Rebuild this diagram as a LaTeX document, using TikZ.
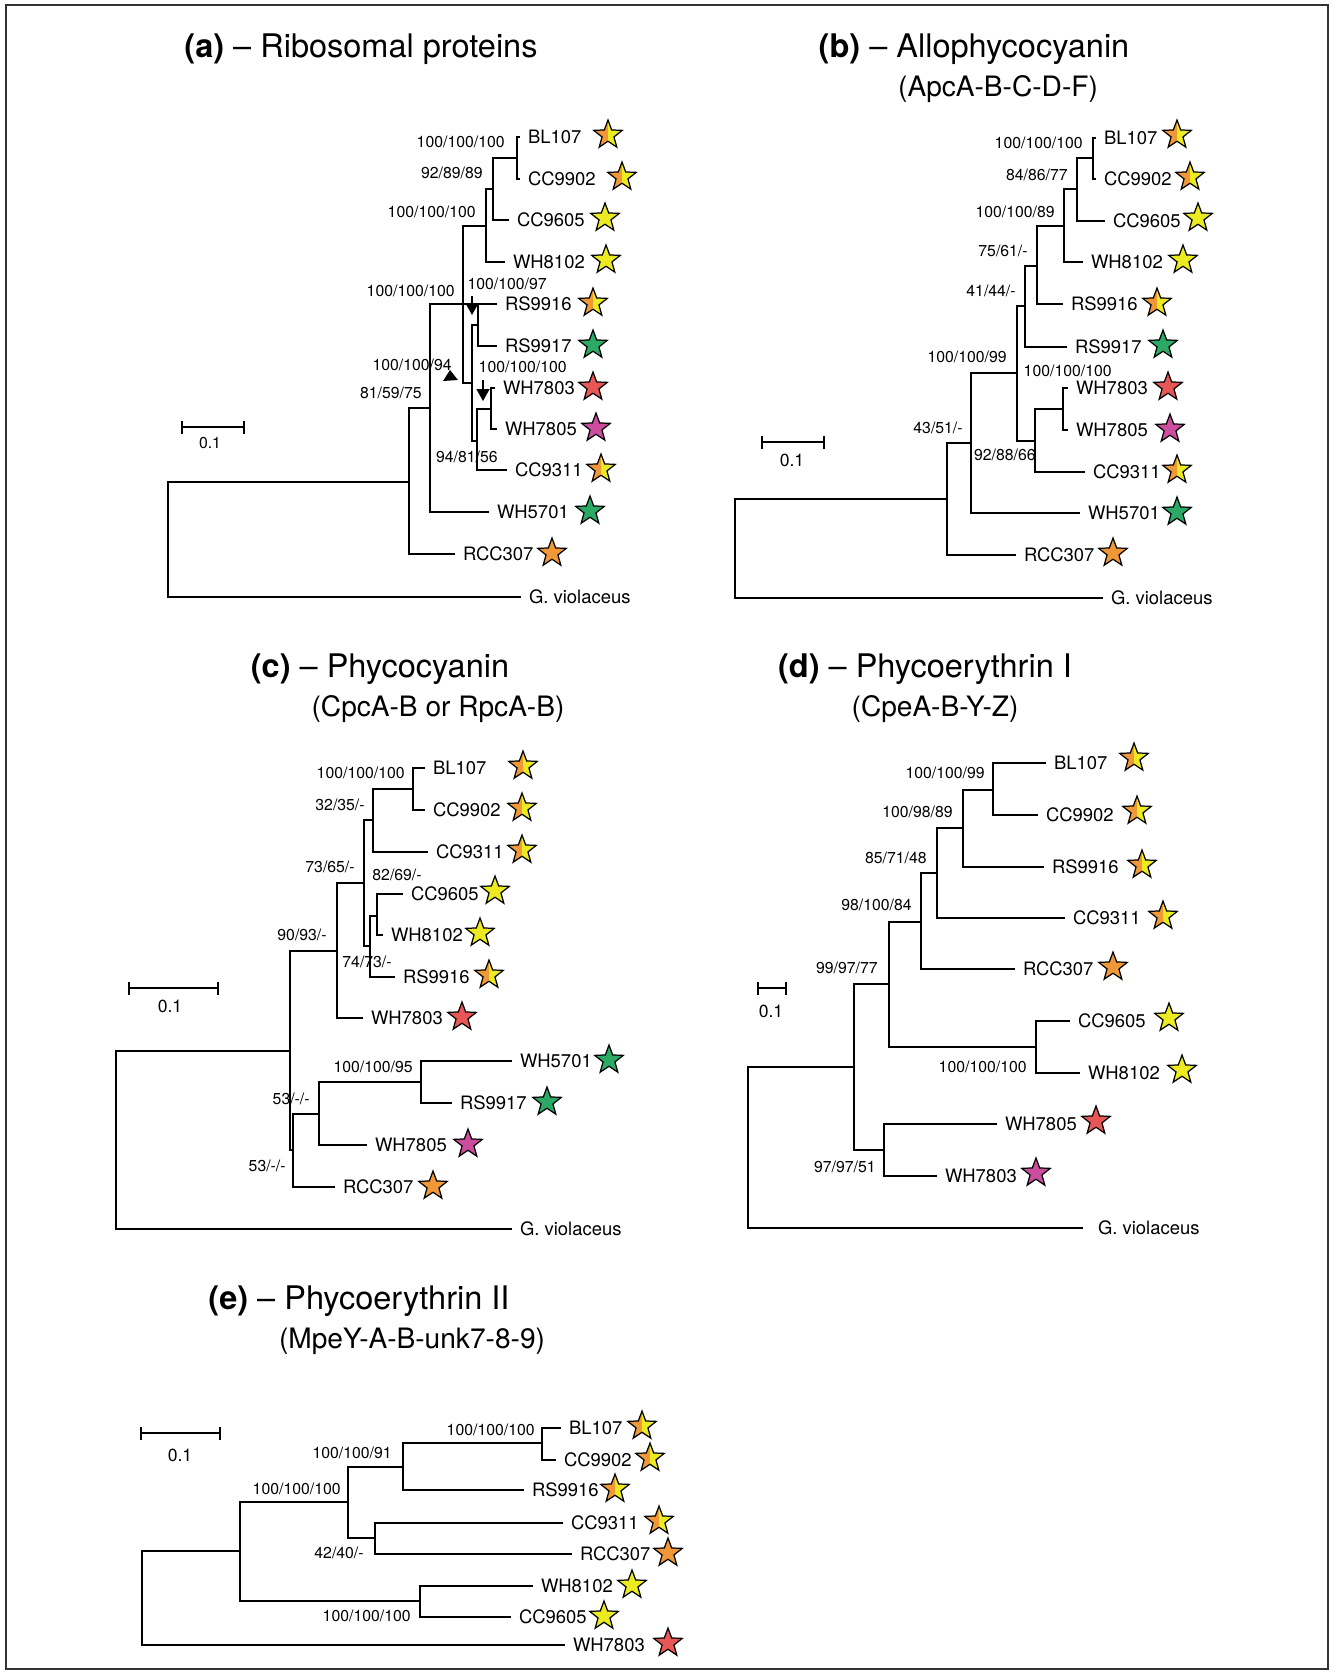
\documentclass[tikz,border=0pt]{standalone}
\usepackage{fontspec}
\setmainfont{TeX Gyre Heros}
\usepackage{tikz}
\usetikzlibrary{shapes.geometric,arrows.meta}
\definecolor{star-orange}{RGB}{240,152,56}
\definecolor{star-yellow}{RGB}{236,234,32}
\definecolor{star-green}{RGB}{42,170,100}
\definecolor{star-red}{RGB}{232,86,86}
\definecolor{star-magenta}{RGB}{204,76,158}

\begin{document}
\begin{tikzpicture}[x=0.02cm, y=-0.02cm,
    branch/.style={line width=1pt},
    leaf/.style={anchor=west, inner sep=0pt, outer sep=0.16cm, font=\fontsize{10.5}{12}\selectfont},
    boot/.style={anchor=east, inner sep=0pt, font=\fontsize{9}{10}\selectfont},
    ttl/.style={font=\fontsize{18.5}{22}\selectfont},
    subttl/.style={font=\fontsize{16}{19}\selectfont},
    sblabel/.style={font=\fontsize{10}{12}\selectfont},
    scalebar/.style={line width=1pt, {Bar[width=0.26cm]}-{Bar[width=0.26cm]}},
    ptr/.style={line width=0.7pt, -{Triangle[width=0.26cm,length=0.24cm]}},
    pstar/.style={star, star points=5, star point ratio=2.4, minimum size=0.6cm, inner sep=0pt, draw=black, line width=0.7pt},
    ystar/.style={pstar, fill=star-yellow},
    ostar/.style={pstar, fill=star-orange},
    gstar/.style={pstar, fill=star-green},
    rstar/.style={pstar, fill=star-red},
    mstar/.style={pstar, fill=star-magenta},
    oystar/.style={pstar, path picture={
        \fill[star-orange] (path picture bounding box.south west) rectangle (path picture bounding box.north);
        \fill[star-yellow] (path picture bounding box.south) rectangle (path picture bounding box.north east);}}]
\useasboundingbox (0,0) rectangle (1333,1674);
\draw[black!80, line width=0.8pt] (6,5) rectangle (1328,1669);

% (a) Ribosomal proteins
\node[ttl] (a-title) at (361,49) {\textbf{(a)} -- Ribosomal proteins};
\node[leaf] (a-bl107) at (520,137) {BL107};
\node[leaf] (a-cc9902) at (520,179) {CC9902};
\node[leaf] (a-cc9605) at (509,220) {CC9605};
\node[leaf] (a-wh8102) at (505,262) {WH8102};
\node[leaf] (a-rs9916) at (497,304) {RS9916};
\node[leaf] (a-rs9917) at (497,346) {RS9917};
\node[leaf] (a-wh7803) at (495,388) {WH7803};
\node[leaf] (a-wh7805) at (497,429) {WH7805};
\node[leaf] (a-cc9311) at (507,470) {CC9311};
\node[leaf] (a-wh5701) at (489,512) {WH5701};
\node[leaf] (a-rcc307) at (455,554) {RCC307};
\node[leaf] (a-gviol) at (521,597) {G. violaceus};
\coordinate (a-n8) at (517,158);
\coordinate (a-n7) at (493,189);
\coordinate (a-n6) at (486,226);
\coordinate (a-n2) at (463,304);
\coordinate (a-n9) at (478,325);
\coordinate (a-n10) at (491,409);
\coordinate (a-n5) at (477,441);
\coordinate (a-n4) at (472,383);
\coordinate (a-n1) at (430,408);
\coordinate (a-r1) at (409,482);
\coordinate (a-root) at (168,540);
\draw[branch] (a-bl107.west) -| (a-n8) |- (a-cc9902.west);
\draw[branch] (a-n8) -| (a-n7) |- (a-cc9605.west);
\draw[branch] (a-n7) -| (a-n6) |- (a-wh8102.west);
\draw[branch] (a-rs9916.west) -| (a-n9) |- (a-rs9917.west);
\draw[branch] (a-wh7803.west) -| (a-n10) |- (a-wh7805.west);
\draw[branch] (a-n10) -| (a-n5) |- (a-cc9311.west);
\draw[branch] (a-n9) -| (a-n4) |- (a-n5);
\draw[branch] (a-n6) -| (a-n2) |- (a-n4);
\draw[branch] (a-n2) -- (a-rs9916.west);
\draw[branch] (a-n2) -| (a-n1) |- (a-wh5701.west);
\draw[branch] (a-n1) -| (a-r1) |- (a-rcc307.west);
\draw[branch] (a-r1) -| (a-root) |- (a-gviol.west);
\node[boot] (a-b1) at (505,142) {100/100/100};
\node[boot] (a-b2) at (483,173) {92/89/89};
\node[boot] (a-b3) at (476,212) {100/100/100};
\node[boot] (a-b4) at (455,291) {100/100/100};
\node[boot] (a-b5) at (547,284) {100/100/97};
\node[boot] (a-b6) at (452,365) {100/100/94};
\node[boot] (a-b7) at (567,367) {100/100/100};
\node[boot] (a-b8) at (422,393) {81/59/75};
\node[boot] (a-b9) at (498,457) {94/81/56};
\coordinate (a-p1s) at (472,296);
\coordinate (a-p1e) at (472,315);
\draw[ptr] (a-p1s) -- (a-p1e);
\coordinate (a-p2s) at (483,380);
\coordinate (a-p2e) at (483,401);
\draw[ptr] (a-p2s) -- (a-p2e);
\fill (450,370) -- (443,381) -- (458,380) -- cycle;
\node[oystar] (a-bl107-s) at (608,135) {};
\node[oystar] (a-cc9902-s) at (622,177) {};
\node[ystar] (a-cc9605-s) at (605,218) {};
\node[ystar] (a-wh8102-s) at (606,260) {};
\node[oystar] (a-rs9916-s) at (593,303) {};
\node[gstar] (a-rs9917-s) at (593,345) {};
\node[rstar] (a-wh7803-s) at (593,387) {};
\node[mstar] (a-wh7805-s) at (596,428) {};
\node[oystar] (a-cc9311-s) at (601,469) {};
\node[gstar] (a-wh5701-s) at (590,511) {};
\node[ostar] (a-rcc307-s) at (552,553) {};
\coordinate (a-sb0) at (181,427);
\coordinate (a-sb1) at (245,427);
\draw[scalebar] (a-sb0) -- (a-sb1);
\node[font=\fontsize{9}{10}\selectfont] (a-sbl) at (210,443) {0.1};

% (b) Allophycocyanin
\node[ttl] (b-title) at (974,49) {\textbf{(b)} -- Allophycocyanin};
\node[subttl] (b-sub) at (998,89) {(ApcA-B-C-D-F)};
\node[leaf] (b-bl107) at (1096,138) {BL107};
\node[leaf] (b-cc9902) at (1096,179) {CC9902};
\node[leaf] (b-cc9605) at (1105,221) {CC9605};
\node[leaf] (b-wh8102) at (1083,262) {WH8102};
\node[leaf] (b-rs9916) at (1063,304) {RS9916};
\node[leaf] (b-rs9917) at (1067,347) {RS9917};
\node[leaf] (b-wh7803) at (1068,388) {WH7803};
\node[leaf] (b-wh7805) at (1068,430) {WH7805};
\node[leaf] (b-cc9311) at (1085,472) {CC9311};
\node[leaf] (b-wh5701) at (1080,513) {WH5701};
\node[leaf] (b-rcc307) at (1016,555) {RCC307};
\node[leaf] (b-gviol) at (1103,598) {G. violaceus};
\coordinate (b-n8) at (1093,158);
\coordinate (b-n7) at (1077,189);
\coordinate (b-n6) at (1064,226);
\coordinate (b-n5) at (1037,266);
\coordinate (b-n4) at (1025,306);
\coordinate (b-n10) at (1063,409);
\coordinate (b-n9) at (1035,441);
\coordinate (b-n3) at (1017,373);
\coordinate (b-n2) at (971,443);
\coordinate (b-r1) at (947,499);
\coordinate (b-root) at (735,550);
\draw[branch] (b-bl107.west) -| (b-n8) |- (b-cc9902.west);
\draw[branch] (b-n8) -| (b-n7) |- (b-cc9605.west);
\draw[branch] (b-n7) -| (b-n6) |- (b-wh8102.west);
\draw[branch] (b-n6) -| (b-n5) |- (b-rs9916.west);
\draw[branch] (b-n5) -| (b-n4) |- (b-rs9917.west);
\draw[branch] (b-wh7803.west) -| (b-n10) |- (b-wh7805.west);
\draw[branch] (b-n10) -| (b-n9) |- (b-cc9311.west);
\draw[branch] (b-n4) -| (b-n3) |- (b-n9);
\draw[branch] (b-n3) -| (b-n2) |- (b-wh5701.west);
\draw[branch] (b-n2) -| (b-r1) |- (b-rcc307.west);
\draw[branch] (b-r1) -| (b-root) |- (b-gviol.west);
\node[boot] (b-b1) at (1083,143) {100/100/100};
\node[boot] (b-b2) at (1068,175) {84/86/77};
\node[boot] (b-b3) at (1055,212) {100/100/89};
\node[boot] (b-b4) at (1028,251) {75/61/-};
\node[boot] (b-b5) at (1016,291) {41/44/-};
\node[boot] (b-b6) at (1007,357) {100/100/99};
\node[boot] (b-b7) at (1112,371) {100/100/100};
\node[boot] (b-b8) at (963,428) {43/51/-};
\node[boot] (b-b9) at (1036,455) {92/88/66};
\node[oystar] (b-bl107-s) at (1177,135) {};
\node[oystar] (b-cc9902-s) at (1190,177) {};
\node[ystar] (b-cc9605-s) at (1198,218) {};
\node[ystar] (b-wh8102-s) at (1183,260) {};
\node[oystar] (b-rs9916-s) at (1157,303) {};
\node[gstar] (b-rs9917-s) at (1163,345) {};
\node[rstar] (b-wh7803-s) at (1168,387) {};
\node[mstar] (b-wh7805-s) at (1170,429) {};
\node[oystar] (b-cc9311-s) at (1177,470) {};
\node[gstar] (b-wh5701-s) at (1177,512) {};
\node[ostar] (b-rcc307-s) at (1113,553) {};
\coordinate (b-sb0) at (761,442);
\coordinate (b-sb1) at (825,442);
\draw[scalebar] (b-sb0) -- (b-sb1);
\node[sblabel] (b-sbl) at (792,460) {0.1};

% (c) Phycocyanin
\node[ttl] (c-title) at (380,669) {\textbf{(c)} -- Phycocyanin};
\node[subttl] (c-sub) at (438,709) {(CpcA-B or RpcA-B)};
\node[leaf] (c-bl107) at (425,768) {BL107};
\node[leaf] (c-cc9902) at (425,810) {CC9902};
\node[leaf] (c-cc9311) at (428,852) {CC9311};
\node[leaf] (c-cc9605) at (403,894) {CC9605};
\node[leaf] (c-wh8102) at (383,935) {WH8102};
\node[leaf] (c-rs9916) at (395,977) {RS9916};
\node[leaf] (c-wh7803) at (363,1018) {WH7803};
\node[leaf] (c-wh5701) at (512,1061) {WH5701};
\node[leaf] (c-rs9917) at (452,1103) {RS9917};
\node[leaf] (c-wh7805) at (367,1145) {WH7805};
\node[leaf] (c-rcc307) at (335,1187) {RCC307};
\node[leaf] (c-gviol) at (512,1229) {G. violaceus};
\coordinate (c-n1) at (413,789);
\coordinate (c-n2) at (373,820);
\coordinate (c-n4b) at (377,916);
\coordinate (c-n4) at (370,946);
\coordinate (c-n3) at (364,883);
\coordinate (c-n5) at (337,951);
\coordinate (c-n9) at (421,1082);
\coordinate (c-n8) at (319,1114);
\coordinate (c-n7) at (293,1150);
\coordinate (c-n6) at (290,1051);
\coordinate (c-root) at (116,1140);
\draw[branch] (c-bl107.west) -| (c-n1) |- (c-cc9902.west);
\draw[branch] (c-n1) -| (c-n2) |- (c-cc9311.west);
\draw[branch] (c-cc9605.west) -| (c-n4b) |- (c-wh8102.west);
\draw[branch] (c-n4b) -| (c-n4) |- (c-rs9916.west);
\draw[branch] (c-n2) -| (c-n3) |- (c-n4);
\draw[branch] (c-n3) -| (c-n5) |- (c-wh7803.west);
\draw[branch] (c-wh5701.west) -| (c-n9) |- (c-rs9917.west);
\draw[branch] (c-n9) -| (c-n8) |- (c-wh7805.west);
\draw[branch] (c-n8) -| (c-n7) |- (c-rcc307.west);
\draw[branch] (c-n5) -| (c-n6) |- (c-n7);
\draw[branch] (c-n6) -| (c-root) |- (c-gviol.west);
\node[boot] (c-b1) at (405,773) {100/100/100};
\node[boot] (c-b2) at (365,805) {32/35/-};
\node[boot] (c-b3) at (355,867) {73/65/-};
\node[boot] (c-b4) at (422,875) {82/69/-};
\node[boot] (c-b5) at (327,935) {90/93/-};
\node[boot] (c-b6) at (392,962) {74/73/-};
\node[boot] (c-b7) at (413,1067) {100/100/95};
\node[boot] (c-b8) at (310,1099) {53/-/-};
\node[boot] (c-b9) at (286,1166) {53/-/-};
\node[oystar] (c-bl107-s) at (523,766) {};
\node[oystar] (c-cc9902-s) at (522,808) {};
\node[oystar] (c-cc9311-s) at (522,850) {};
\node[ystar] (c-cc9605-s) at (495,891) {};
\node[ystar] (c-wh8102-s) at (480,933) {};
\node[oystar] (c-rs9916-s) at (489,975) {};
\node[rstar] (c-wh7803-s) at (462,1017) {};
\node[gstar] (c-wh5701-s) at (609,1060) {};
\node[gstar] (c-rs9917-s) at (547,1102) {};
\node[mstar] (c-wh7805-s) at (468,1144) {};
\node[ostar] (c-rcc307-s) at (433,1186) {};
\coordinate (c-sb0) at (128,988);
\coordinate (c-sb1) at (219,988);
\draw[scalebar] (c-sb0) -- (c-sb1);
\node[sblabel] (c-sbl) at (170,1006) {0.1};

% (d) Phycoerythrin I
\node[ttl] (d-title) at (925,669) {\textbf{(d)} -- Phycoerythrin I};
\node[subttl] (d-sub) at (935,709) {(CpeA-B-Y-Z)};
\node[leaf] (d-bl107) at (1046,763) {BL107};
\node[leaf] (d-cc9902) at (1038,815) {CC9902};
\node[leaf] (d-rs9916) at (1044,867) {RS9916};
\node[leaf] (d-cc9311) at (1065,918) {CC9311};
\node[leaf] (d-rcc307) at (1015,969) {RCC307};
\node[leaf] (d-cc9605) at (1070,1021) {CC9605};
\node[leaf] (d-wh8102) at (1080,1073) {WH8102};
\node[leaf] (d-wh7805) at (997,1124) {WH7805};
\node[leaf] (d-wh7803) at (937,1176) {WH7803};
\node[leaf, outer sep=0.3cm] (d-gviol) at (1083,1228) {G. violaceus};
\coordinate (d-n1) at (993,790);
\coordinate (d-n2) at (963,828);
\coordinate (d-n3) at (937,873);
\coordinate (d-n4) at (921,922);
\coordinate (d-n6) at (1036,1047);
\coordinate (d-n5) at (889,984);
\coordinate (d-n8) at (884,1150);
\coordinate (d-n7) at (854,1067);
\coordinate (d-root) at (748,1150);
\draw[branch] (d-bl107.west) -| (d-n1) |- (d-cc9902.west);
\draw[branch] (d-n1) -| (d-n2) |- (d-rs9916.west);
\draw[branch] (d-n2) -| (d-n3) |- (d-cc9311.west);
\draw[branch] (d-n3) -| (d-n4) |- (d-rcc307.west);
\draw[branch] (d-cc9605.west) -| (d-n6) |- (d-wh8102.west);
\draw[branch] (d-n4) -| (d-n5) |- (d-n6);
\draw[branch] (d-wh7805.west) -| (d-n8) |- (d-wh7803.west);
\draw[branch] (d-n5) -| (d-n7) |- (d-n8);
\draw[branch] (d-n7) -| (d-root) |- (d-gviol.west);
\node[boot] (d-b1) at (985,773) {100/100/99};
\node[boot] (d-b2) at (953,812) {100/98/89};
\node[boot] (d-b3) at (927,858) {85/71/48};
\node[boot] (d-b4) at (912,905) {98/100/84};
\node[boot] (d-b5) at (878,968) {99/97/77};
\node[boot] (d-b6) at (1027,1067) {100/100/100};
\node[boot] (d-b7) at (876,1167) {97/97/51};
\node[oystar] (d-bl107-s) at (1134,758) {};
\node[oystar] (d-cc9902-s) at (1137,811) {};
\node[oystar] (d-rs9916-s) at (1142,865) {};
\node[oystar] (d-cc9311-s) at (1163,916) {};
\node[ostar] (d-rcc307-s) at (1113,967) {};
\node[ystar] (d-cc9605-s) at (1169,1018) {};
\node[ystar] (d-wh8102-s) at (1182,1070) {};
\node[rstar] (d-wh7805-s) at (1096,1121) {};
\node[mstar] (d-wh7803-s) at (1036,1173) {};
\coordinate (d-sb0) at (757,988);
\coordinate (d-sb1) at (787,988);
\draw[scalebar] (d-sb0) -- (d-sb1);
\node[sblabel] (d-sbl) at (771,1011) {0.1};

% (e) Phycoerythrin II
\node[ttl] (e-title) at (359,1301) {\textbf{(e)} -- Phycoerythrin II};
\node[subttl] (e-sub) at (412,1341) {(MpeY-A-B-unk7-8-9)};
\node[leaf] (e-bl107) at (561,1428) {BL107};
\node[leaf] (e-cc9902) at (556,1460) {CC9902};
\node[leaf] (e-rs9916) at (524,1490) {RS9916};
\node[leaf] (e-cc9311) at (563,1523) {CC9311};
\node[leaf] (e-rcc307) at (572,1554) {RCC307};
\node[leaf] (e-wh8102) at (533,1586) {WH8102};
\node[leaf] (e-cc9605) at (511,1617) {CC9605};
\node[leaf] (e-wh7803) at (565,1645) {WH7803};
\coordinate (e-n1) at (542,1443);
\coordinate (e-n2) at (403,1467);
\coordinate (e-n4) at (375,1538);
\coordinate (e-n3) at (348,1502);
\coordinate (e-n6) at (420,1601);
\coordinate (e-n5) at (240,1551);
\coordinate (e-root) at (142,1600);
\draw[branch] (e-bl107.west) -| (e-n1) |- (e-cc9902.west);
\draw[branch] (e-n1) -| (e-n2) |- (e-rs9916.west);
\draw[branch] (e-cc9311.west) -| (e-n4) |- (e-rcc307.west);
\draw[branch] (e-n2) -| (e-n3) |- (e-n4);
\draw[branch] (e-wh8102.west) -| (e-n6) |- (e-cc9605.west);
\draw[branch] (e-n3) -| (e-n5) |- (e-n6);
\draw[branch] (e-n5) -| (e-root) |- (e-wh7803.west);
\node[boot] (e-b1) at (535,1430) {100/100/100};
\node[boot] (e-b2) at (392,1453) {100/100/91};
\node[boot] (e-b3) at (341,1489) {100/100/100};
\node[boot] (e-b4) at (364,1553) {42/40/-};
\node[boot] (e-b5) at (411,1616) {100/100/100};
\node[oystar] (e-bl107-s) at (642,1426) {};
\node[oystar] (e-cc9902-s) at (650,1458) {};
\node[oystar] (e-rs9916-s) at (615,1489) {};
\node[oystar] (e-cc9311-s) at (659,1521) {};
\node[ostar] (e-rcc307-s) at (668,1553) {};
\node[ystar] (e-wh8102-s) at (632,1585) {};
\node[ystar] (e-cc9605-s) at (604,1616) {};
\node[rstar] (e-wh7803-s) at (668,1643) {};
\coordinate (e-sb0) at (140,1433);
\coordinate (e-sb1) at (221,1433);
\draw[scalebar] (e-sb0) -- (e-sb1);
\node[sblabel] (e-sbl) at (180,1455) {0.1};
\end{tikzpicture}
\end{document}
